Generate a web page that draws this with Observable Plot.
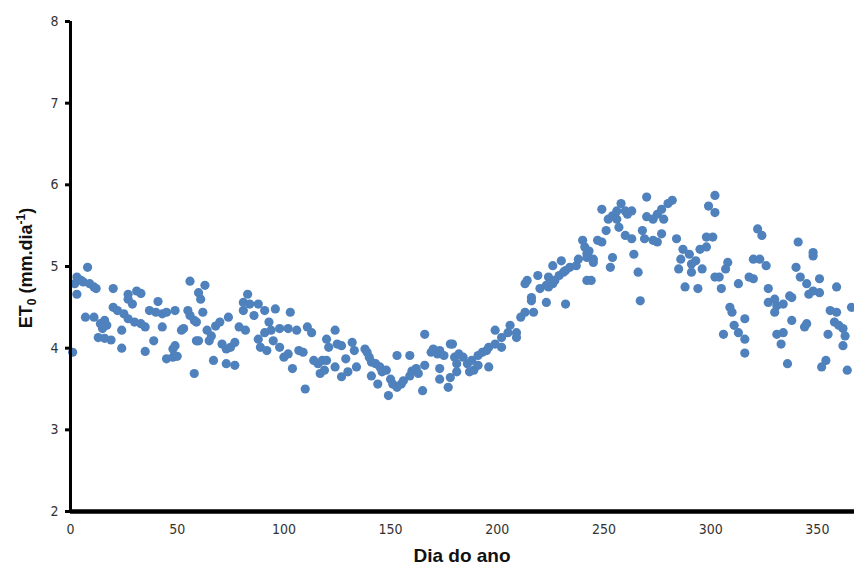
<!DOCTYPE html>
<html>
<head>
<meta charset="utf-8">
<script src="https://cdn.jsdelivr.net/npm/d3@7"></script>
<script src="https://cdn.jsdelivr.net/npm/@observablehq/plot@0.6"></script>
<style>
  html, body { margin: 0; padding: 0; background: #fff; }
  #chart svg { display: block; }
</style>
</head>
<body>
<div id="chart"></div>
<script>
// Day of year (x) and ET0 in mm/day (y)
const days = [
  1,2,3,3,5,6,7,8,9,11,11,12,13,14,16,16,17,15,19,20,20,22,24,24,25,27,27,27,29,30,31,33,33,35,35,37,39,40,41,43,43,45,45,48,48,49,49,50,52,53,55,56,56,58,58,59,59,
  60,60,61,62,63,64,65,66,67,68,70,71,73,73,74,75,77,77,79,81,81,82,83,84,86,88,88,89,91,91,92,93,94,95,96,98,98,
  100,102,102,103,104,106,107,109,110,111,113,114,116,117,118,119,120,120,121,124,124,125,127,127,129,130,132,133,134,138,139,140,141,141,143,144,145,146,148,149,
  150,151,153,153,155,156,159,159,160,162,163,165,166,166,169,170,172,173,173,173,175,177,178,178,179,
  180,181,181,182,184,186,187,188,189,191,191,193,195,196,196,199,199,202,202,205,206,209,209,211,213,213,214,216,216,217,219,
  220,223,223,224,224,226,226,227,229,230,231,232,232,234,237,238,240,241,242,242,243,242,244,245,245,247,249,249,
  251,252,253,254,254,256,256,257,258,260,260,261,263,263,264,266,267,268,269,270,270,273,273,275,275,277,277,278,280,282,284,285,286,287,288,
  290,291,291,293,294,295,296,298,298,299,301,302,302,302,304,305,306,307,308,309,310,311,313,313,316,316,316,318,
  320,320,322,323,324,326,327,327,330,330,331,331,333,334,334,336,337,338,338,340,341,342,344,345,345,346,348,348,348,
  351,351,352,354,355,356,358,359,359,360,362,362,363,364,366
];
const et0 = [
  3.95,4.79,4.87,4.66,4.83,4.81,4.38,4.99,4.79,4.75,4.38,4.73,4.13,4.30,4.34,4.12,4.28,4.24,4.10,4.73,4.50,4.46,4.00,4.22,4.42,4.36,4.66,4.60,4.54,4.32,4.70,4.67,4.30,4.26,3.96,4.46,4.09,4.44,4.57,4.42,4.26,4.44,3.87,3.99,3.89,4.46,4.03,3.90,4.22,4.24,4.46,4.82,4.40,4.34,3.69,4.09,4.32,
  4.68,4.09,4.60,4.44,4.77,4.22,4.09,4.15,3.85,4.27,4.32,4.05,3.99,3.81,4.38,4.01,4.07,3.79,4.26,4.56,4.46,4.22,4.66,4.54,4.40,4.54,4.11,4.01,4.46,4.19,3.97,4.32,4.22,4.09,4.48,4.24,4.01,
  3.89,4.24,3.93,4.44,3.75,4.22,3.97,3.95,3.50,4.26,4.19,3.85,3.81,3.69,3.85,3.73,3.85,4.11,4.01,4.22,3.77,4.05,4.03,3.65,3.87,3.71,4.07,3.97,3.77,3.99,3.95,3.89,3.83,3.66,3.81,3.56,3.77,3.71,3.73,3.42,
  3.62,3.56,3.52,3.91,3.56,3.60,3.66,3.91,3.72,3.75,3.69,3.48,4.17,3.79,3.95,3.99,3.93,3.97,3.75,3.62,3.91,3.52,4.05,3.64,4.05,
  3.89,3.81,3.71,3.93,3.89,3.81,3.71,3.85,3.73,3.91,3.79,3.95,3.97,4.01,3.77,4.05,4.22,4.13,4.01,4.19,4.28,4.19,4.13,4.38,4.44,4.79,4.83,4.62,4.58,4.44,4.89,
  4.73,4.56,4.77,4.75,4.87,4.79,5.01,4.83,4.89,5.07,4.93,4.95,4.54,4.99,5.01,5.09,5.32,5.24,5.16,4.83,5.19,5.11,4.83,5.09,5.05,5.32,5.30,5.70,
  5.44,5.58,4.99,5.62,5.11,5.58,5.68,5.48,5.77,5.68,5.38,5.64,5.68,5.34,5.15,4.93,4.58,5.44,5.34,5.85,5.61,5.58,5.32,5.64,5.30,5.70,5.40,5.58,5.77,5.81,5.34,4.97,5.09,5.21,4.75,
  5.15,5.03,4.93,5.07,4.73,5.21,4.97,5.24,5.36,5.74,5.36,5.87,5.66,4.87,4.87,4.73,4.17,4.97,5.05,4.50,4.44,4.28,4.79,4.19,4.11,4.36,3.94,4.87,
  4.85,5.09,5.46,5.09,5.38,5.01,4.73,4.56,4.60,4.44,4.52,4.17,4.05,4.54,4.19,3.81,4.64,4.62,4.34,4.99,5.30,4.87,4.26,4.79,4.30,4.66,5.17,5.13,4.70,
  4.85,4.68,3.77,3.85,4.17,4.46,4.32,4.75,4.44,4.28,4.24,4.03,4.15,3.73,4.50
];
const xTicks = [0, 50, 100, 150, 200, 250, 300, 350];
const yTicks = [2, 3, 4, 5, 6, 7, 8];

const data = days.map((d, i) => ({day: d, et0: et0[i]}));

const tickFont = '"Liberation Sans Narrow", "DejaVu Sans Condensed", "Arial Narrow", sans-serif';

const chart = Plot.plot({
  width: 854,
  height: 573,
  marginLeft: 70,
  marginRight: 0,
  marginTop: 21,
  marginBottom: 62,
  style: {fontFamily: tickFont, fontSize: "14px", color: "#333", background: "#fff", overflow: "visible"},
  x: {domain: [0, 367.4], label: null},
  y: {domain: [2, 8], label: null},
  marks: [
    Plot.axisX({ticks: xTicks, tickFormat: d3.format("d"), tickSize: 0, tickPadding: 13, label: null, fontSize: 14, fill: "#333"}),
    Plot.axisY({ticks: yTicks, tickFormat: d3.format("d"), tickSize: 5, tickPadding: 7, strokeWidth: 3, stroke: "#000", label: null, fontSize: 14, fill: "#333"}),
    Plot.dot(data, {x: "day", y: "et0", r: 4.6, fill: "#4f81bd", stroke: "none"}),
    Plot.ruleX([0], {stroke: "#000", strokeWidth: 3}),
    Plot.ruleY([2], {stroke: "#000", strokeWidth: 4.5})
  ]
});

document.getElementById("chart").appendChild(chart);

// Axis titles with subscript / superscript
const svg = d3.select(chart);
svg.append("text")
  .attr("x", 462)
  .attr("y", 562)
  .attr("text-anchor", "middle")
  .attr("font-family", '"Liberation Sans", Arial, sans-serif')
  .attr("font-weight", "bold")
  .attr("font-size", 19)
  .attr("fill", "#111")
  .text("Dia do ano");

const yl = svg.append("text")
  .attr("transform", "translate(32,268) rotate(-90)")
  .attr("text-anchor", "middle")
  .attr("font-family", '"Liberation Sans", Arial, sans-serif')
  .attr("font-weight", "bold")
  .attr("font-size", 18)
  .attr("fill", "#111");
yl.append("tspan").text("ET");
yl.append("tspan").attr("font-size", 12).attr("dy", 4).text("0");
yl.append("tspan").attr("dy", -4).text(" (mm.dia");
yl.append("tspan").attr("font-size", 12).attr("dy", -7).text("-1");
yl.append("tspan").attr("dy", 7).text(")");
</script>
</body>
</html>
